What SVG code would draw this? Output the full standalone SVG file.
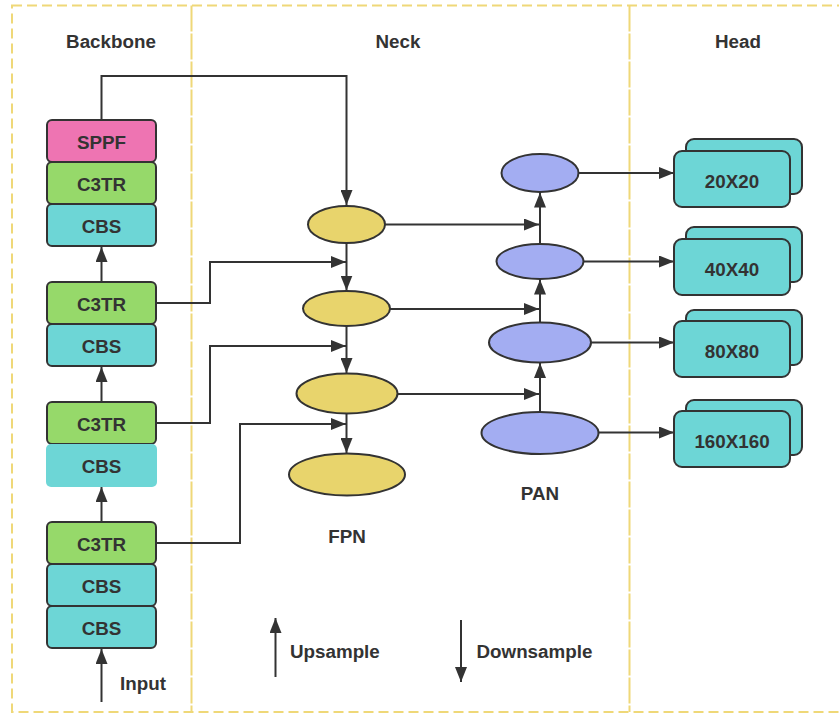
<svg xmlns="http://www.w3.org/2000/svg" width="839" height="713" viewBox="0 0 839 713">
<style>
.t{font-family:"Liberation Sans",Arial,sans-serif;font-weight:bold;font-size:18.8px;fill:#333;text-anchor:middle;dominant-baseline:central}
.tl{font-family:"Liberation Sans",Arial,sans-serif;font-weight:bold;font-size:18.8px;fill:#333;dominant-baseline:central}
.blk{stroke:#333;stroke-width:2}
.sppf{fill:#EE74B2}
.c3{fill:#96D96A}
.cbs{fill:#6DD6D6}
.fpn{fill:#E8D46C;stroke:#333;stroke-width:2}
.pan{fill:#A3ADF2;stroke:#333;stroke-width:2}
.hd{fill:#6DD6D6;stroke:#333;stroke-width:2}
.c{fill:none;stroke:#333;stroke-width:2}
.bd{fill:none;stroke:#EFD878;stroke-width:2}
</style>
<defs>
<marker id="ah" viewBox="0 0 15 12" refX="15" refY="6" markerWidth="15" markerHeight="12" markerUnits="userSpaceOnUse" orient="auto">
<path d="M0,0 L15,6 L0,12 z" fill="#333"/>
</marker>
</defs>
<rect width="839" height="713" fill="#fff"/>
<g id="frame">
<rect class="bd" x="12" y="5.5" width="840" height="706.5" stroke-dasharray="10 5"/>
<line class="bd" x1="191.5" y1="5.5" x2="191.5" y2="712" stroke-dasharray="26 2"/>
<line class="bd" x1="629.5" y1="5.5" x2="629.5" y2="712" stroke-dasharray="26 2"/>
<text class="t" x="111" y="41">Backbone</text>
<text class="t" x="398" y="41">Neck</text>
<text class="t" x="738" y="41">Head</text>
</g>
<g id="connectors">
<path class="c" d="M101.5,120 V76 H346.5 V205" marker-end="url(#ah)"/>
<path class="c" d="M101.5,282 V247" marker-end="url(#ah)"/>
<path class="c" d="M101.5,402 V367" marker-end="url(#ah)"/>
<path class="c" d="M101.5,522 V487" marker-end="url(#ah)"/>
<path class="c" d="M101.5,702 V649" marker-end="url(#ah)"/>
<path class="c" d="M156,303 H210 V262 H346" marker-end="url(#ah)"/>
<path class="c" d="M156,423 H210 V346 H346" marker-end="url(#ah)"/>
<path class="c" d="M156,543 H240 V424 H346" marker-end="url(#ah)"/>
<path class="c" d="M346.5,243 V290.5" marker-end="url(#ah)"/>
<path class="c" d="M346.5,326 V373" marker-end="url(#ah)"/>
<path class="c" d="M346.5,413 V453" marker-end="url(#ah)"/>
<path class="c" d="M385,224.5 H539" marker-end="url(#ah)"/>
<path class="c" d="M390,309 H539" marker-end="url(#ah)"/>
<path class="c" d="M397,394 H539" marker-end="url(#ah)"/>
<path class="c" d="M540,412 V363" marker-end="url(#ah)"/>
<path class="c" d="M540,322.5 V279.5" marker-end="url(#ah)"/>
<path class="c" d="M540,244 V192.5" marker-end="url(#ah)"/>
<path class="c" d="M579,173 H674" marker-end="url(#ah)"/>
<path class="c" d="M583,261.5 H674" marker-end="url(#ah)"/>
<path class="c" d="M590.5,342.5 H674" marker-end="url(#ah)"/>
<path class="c" d="M597.5,432.5 H674" marker-end="url(#ah)"/>
<path class="c" d="M275.5,677 V618" marker-end="url(#ah)"/>
<path class="c" d="M461,620 V682" marker-end="url(#ah)"/>
</g>
<g id="backbone">
<g id="sppf"><rect class="blk sppf" x="47" y="120" width="109" height="42" rx="5"/><text class="t" x="101.5" y="142">SPPF</text></g>
<g id="c3tr1"><rect class="blk c3" x="47" y="162" width="109" height="42" rx="5"/><text class="t" x="101.5" y="184">C3TR</text></g>
<g id="cbs1"><rect class="blk cbs" x="47" y="204" width="109" height="42" rx="5"/><text class="t" x="101.5" y="226">CBS</text></g>
<g id="c3tr2"><rect class="blk c3" x="47" y="282" width="109" height="42" rx="5"/><text class="t" x="101.5" y="304">C3TR</text></g>
<g id="cbs2"><rect class="blk cbs" x="47" y="324" width="109" height="42" rx="5"/><text class="t" x="101.5" y="346">CBS</text></g>
<g id="c3tr3"><rect class="blk c3" x="47" y="402" width="109" height="42" rx="5"/><text class="t" x="101.5" y="424">C3TR</text></g>
<g id="cbs3"><rect class="cbs" x="46" y="444" width="111" height="43" rx="5"/><text class="t" x="101.5" y="466">CBS</text></g>
<g id="c3tr4"><rect class="blk c3" x="47" y="522" width="109" height="42" rx="5"/><text class="t" x="101.5" y="544">C3TR</text></g>
<g id="cbs4"><rect class="blk cbs" x="47" y="564" width="109" height="42" rx="5"/><text class="t" x="101.5" y="586">CBS</text></g>
<g id="cbs5"><rect class="blk cbs" x="47" y="606" width="109" height="42" rx="5"/><text class="t" x="101.5" y="628">CBS</text></g>
<g id="input"><text class="t" x="143" y="683">Input</text></g>
</g>
<g id="fpn">
<g id="f1"><ellipse class="fpn" cx="346.5" cy="224.5" rx="38.5" ry="18.5"/></g>
<g id="f2"><ellipse class="fpn" cx="346.5" cy="308.5" rx="43.5" ry="17.5"/></g>
<g id="f3"><ellipse class="fpn" cx="347" cy="393.5" rx="50.5" ry="20"/></g>
<g id="f4"><ellipse class="fpn" cx="347" cy="474.5" rx="58" ry="21"/></g>
<text class="t" x="347" y="536">FPN</text>
</g>
<g id="pan">
<g id="p1"><ellipse class="pan" cx="540" cy="173" rx="38.5" ry="19"/></g>
<g id="p2"><ellipse class="pan" cx="540" cy="261.5" rx="43.5" ry="17.5"/></g>
<g id="p3"><ellipse class="pan" cx="540" cy="342.5" rx="51" ry="20"/></g>
<g id="p4"><ellipse class="pan" cx="540" cy="433" rx="58.5" ry="21"/></g>
<text class="t" x="540" y="493">PAN</text>
</g>
<g id="head">
<g id="h20"><rect class="hd" x="686" y="139" width="116" height="55" rx="8"/><rect class="hd" x="674" y="151" width="116" height="56" rx="8"/><text class="t" x="732" y="181">20X20</text></g>
<g id="h40"><rect class="hd" x="686" y="227" width="116" height="55" rx="8"/><rect class="hd" x="674" y="239" width="116" height="56" rx="8"/><text class="t" x="732" y="269">40X40</text></g>
<g id="h80"><rect class="hd" x="686" y="310" width="116" height="55" rx="8"/><rect class="hd" x="674" y="321" width="116" height="56" rx="8"/><text class="t" x="732" y="351">80X80</text></g>
<g id="h160"><rect class="hd" x="686" y="400" width="116" height="55" rx="8"/><rect class="hd" x="674" y="411" width="116" height="56" rx="8"/><text class="t" x="732" y="441">160X160</text></g>
</g>
<g id="legend">
<text class="tl" x="290" y="651">Upsample</text>
<text class="tl" x="476.5" y="651">Downsample</text>
</g>
</svg>
